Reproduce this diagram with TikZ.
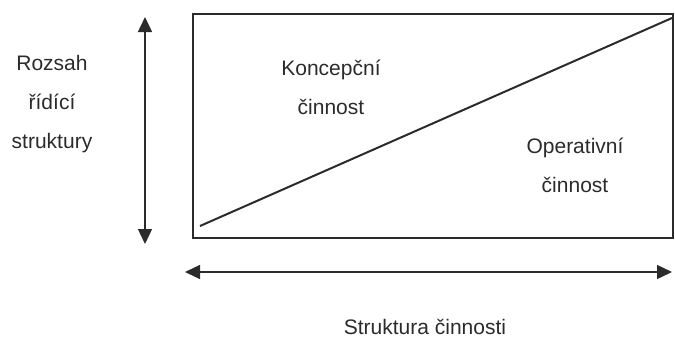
\documentclass[tikz,border=0pt]{standalone}
\usepackage{fontspec}
\setmainfont{Liberation Sans}
\usetikzlibrary{arrows.meta}
\definecolor{ink}{HTML}{2B2B2B}
\begin{document}
\begin{tikzpicture}[x=1pt,y=-1pt,
  lbl/.style={font=\fontsize{21}{39}\selectfont, text=ink, align=center, inner sep=0pt},
  frame/.style={draw=ink, line width=1.4pt},
  diag/.style={draw=ink, line width=2pt},
  dblarrow/.style={draw=ink, line width=1.4pt, {Triangle[length=15pt,width=14pt]}-{Triangle[length=15pt,width=14pt]}}]
\useasboundingbox (0,0) rectangle (675,338);
% frame
\coordinate (tl) at (193,14);
\coordinate (br) at (673,238);
\draw[frame] (tl) rectangle (br);
% diagonal
\coordinate (d1) at (200,226);
\coordinate (d2) at (672,18);
\draw[diag] (d1) -- (d2);
% vertical arrow
\coordinate (vt) at (145,17);
\coordinate (vb) at (145,244);
\draw[dblarrow] (vt) -- (vb);
% horizontal arrow
\coordinate (hl) at (185,272);
\coordinate (hr) at (672,272);
\draw[dblarrow] (hl) -- (hr);
% labels
\node[lbl] (rozsah) at (52,104) {Rozsah\\řídící\\struktury};
\node[lbl] (konc) at (331,87) {Koncepční\\činnost};
\node[lbl] (oper) at (575,165) {Operativní\\činnost};
\node[lbl] (strukt) at (425,327) {Struktura činnosti};
\end{tikzpicture}
\end{document}
